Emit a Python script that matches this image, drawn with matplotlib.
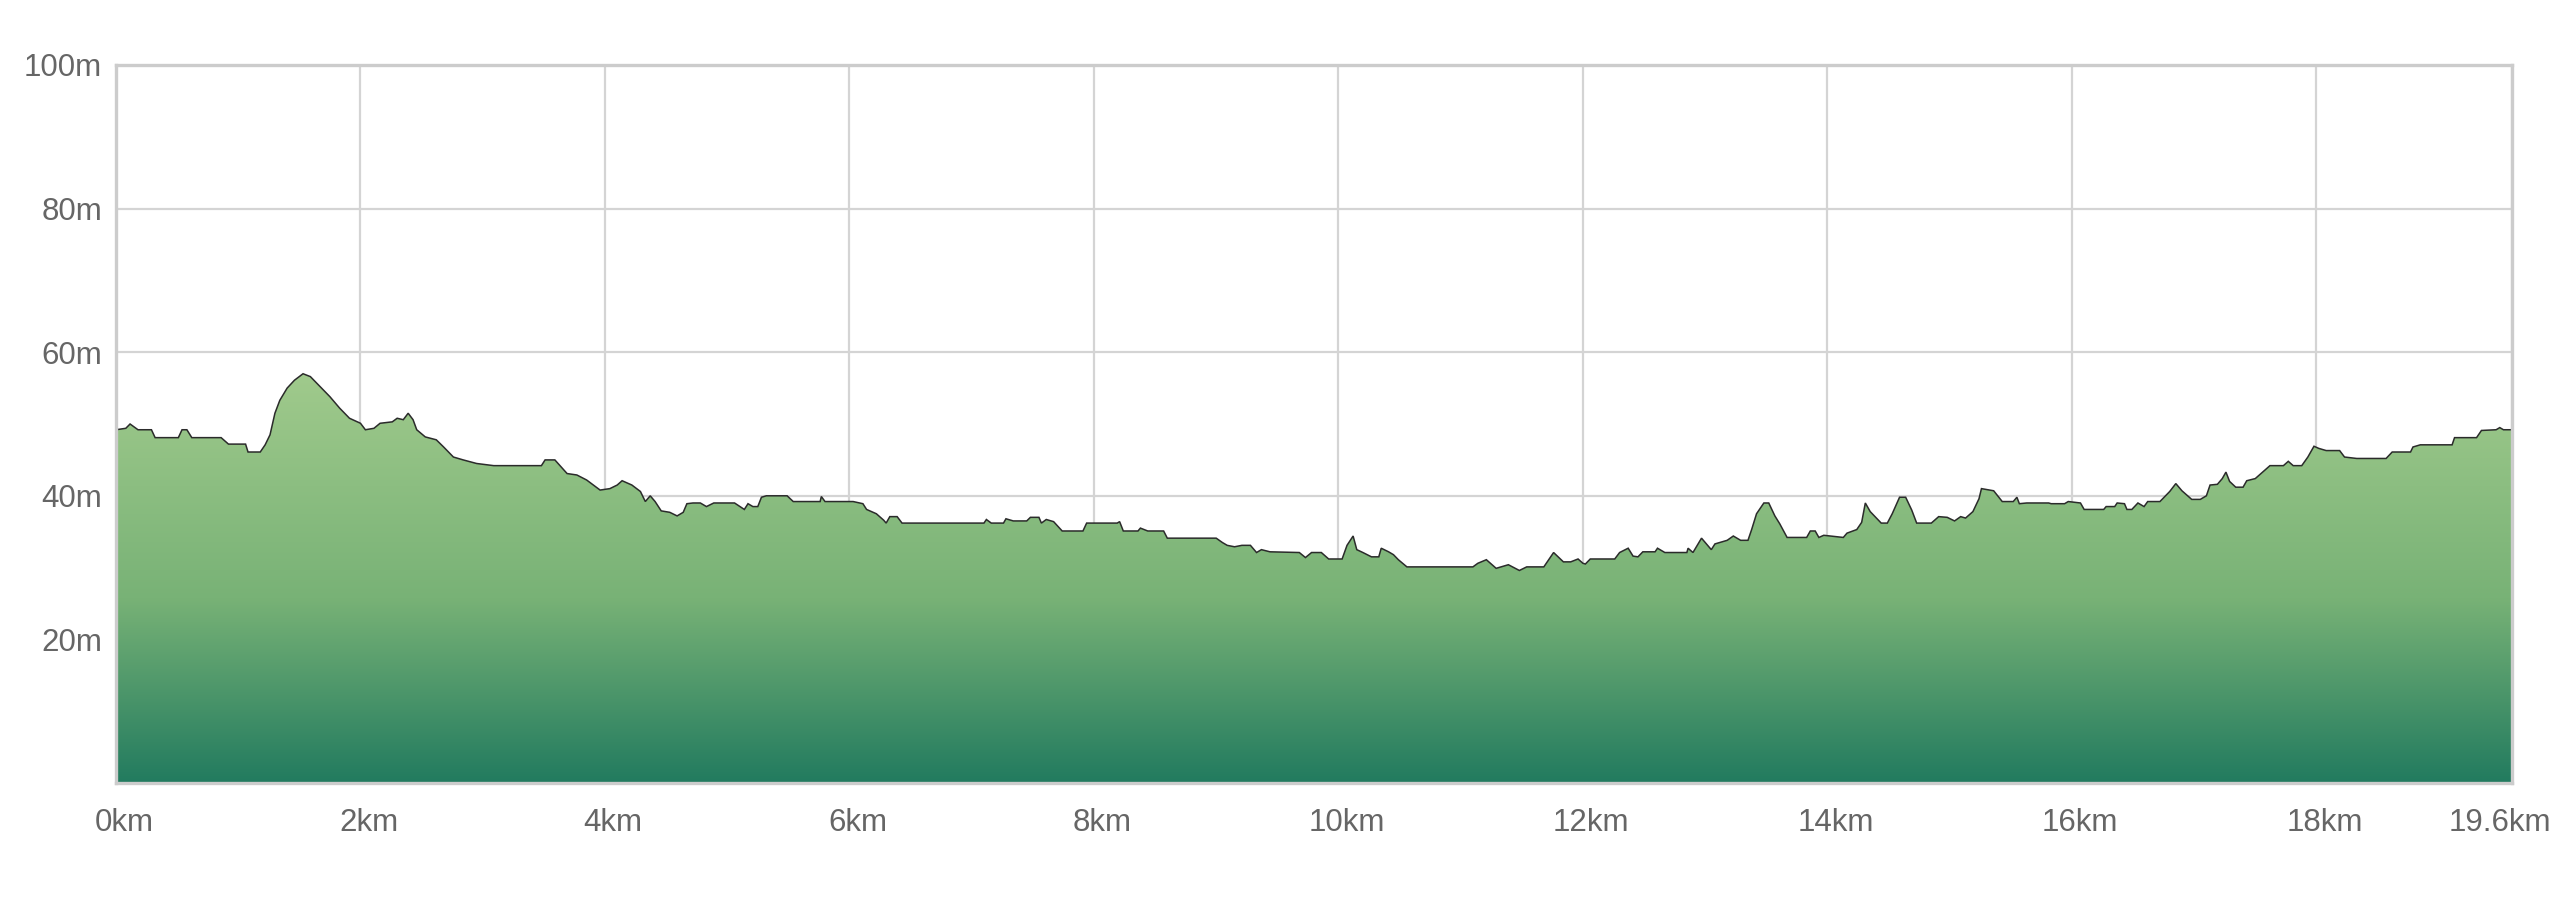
import numpy as np
import matplotlib
matplotlib.use("Agg")
import matplotlib.pyplot as plt
from matplotlib.patches import Polygon
from matplotlib.transforms import ScaledTranslation

# ---- data -------------------------------------------------------------
distance_km = [
    0.00, 0.08, 0.115, 0.18, 0.29, 0.32, 0.51, 0.54, 0.58, 0.62, 0.86, 0.92, 1.06, 1.08, 1.18,
    1.22, 1.26, 1.30, 1.34, 1.40, 1.46, 1.53, 1.59, 1.67, 1.75, 1.83, 1.91, 2.00, 2.04, 2.11,
    2.16, 2.26, 2.30, 2.35, 2.39, 2.43, 2.46, 2.53, 2.62, 2.68, 2.76, 2.84, 2.95, 3.09, 3.48,
    3.51, 3.59, 3.69, 3.77, 3.85, 3.96,
    4.04, 4.10, 4.14, 4.22, 4.29, 4.33, 4.37, 4.41, 4.46, 4.53, 4.59, 4.64, 4.67, 4.72, 4.78,
    4.83, 4.89, 5.06, 5.14, 5.17, 5.21, 5.25, 5.28, 5.32, 5.49, 5.54, 5.76, 5.77, 5.80, 6.03,
    6.11, 6.14, 6.22, 6.28, 6.30, 6.33, 6.39, 6.43, 7.10, 7.12, 7.16, 7.26, 7.28, 7.34, 7.45,
    7.48, 7.55, 7.57, 7.61, 7.67, 7.74, 7.91, 7.94,
    8.19, 8.21, 8.24, 8.36, 8.38, 8.44, 8.57, 8.60, 9.00, 9.05, 9.09, 9.15, 9.21, 9.28, 9.33,
    9.37, 9.44, 9.68, 9.73, 9.78, 9.86, 9.92, 10.03, 10.07, 10.12, 10.15, 10.20, 10.27, 10.33,
    10.35, 10.41, 10.45, 10.49, 10.56, 11.10, 11.14, 11.21, 11.29, 11.39, 11.48, 11.54, 11.68,
    11.76, 11.84, 11.90, 11.96, 12.00,
    12.02, 12.06, 12.26, 12.30, 12.37, 12.41, 12.45, 12.49, 12.59, 12.61, 12.67, 12.85, 12.86,
    12.90, 12.97, 13.05, 13.08, 13.18, 13.23, 13.29, 13.35, 13.38, 13.42, 13.48, 13.52, 13.57,
    13.61, 13.67, 13.83, 13.86, 13.90, 13.93, 13.97, 14.13, 14.16, 14.24, 14.28, 14.31, 14.35,
    14.44, 14.49, 14.53, 14.59, 14.64, 14.69, 14.73, 14.85, 14.91, 14.98, 15.04, 15.09, 15.13,
    15.19, 15.24, 15.26, 15.36, 15.43, 15.52, 15.55, 15.57, 15.63, 15.81, 15.83, 15.94, 15.97,
    16.07, 16.10, 16.26, 16.28, 16.35, 16.37, 16.43, 16.45, 16.49, 16.54, 16.59, 16.62, 16.72,
    16.76, 16.80, 16.85, 16.90, 16.98, 17.05, 17.10, 17.13, 17.19, 17.23, 17.26, 17.29, 17.34,
    17.40, 17.43, 17.50, 17.54, 17.62, 17.73, 17.77, 17.81, 17.88, 17.93, 17.98, 18.02, 18.08,
    18.19, 18.23, 18.33, 18.57, 18.62, 18.77, 18.79, 18.85, 19.11, 19.13, 19.31, 19.35, 19.47,
    19.50, 19.53, 19.60,
]
elevation_m = [
    49.2, 49.4, 50.0, 49.2, 49.2, 48.1, 48.1, 49.2, 49.2, 48.1, 48.1, 47.2, 47.2, 46.1, 46.1,
    47.1, 48.5, 51.5, 53.3, 55.0, 56.1, 57.0, 56.6, 55.2, 53.8, 52.2, 50.8, 50.1, 49.2, 49.4,
    50.1, 50.3, 50.8, 50.6, 51.5, 50.6, 49.2, 48.2, 47.8, 46.8, 45.4, 45.0, 44.5, 44.2, 44.2,
    45.0, 45.0, 43.1, 42.9, 42.2, 40.8,
    41.0, 41.5, 42.1, 41.5, 40.6, 39.2, 40.0, 39.2, 37.9, 37.7, 37.2, 37.7, 38.9, 39.0, 39.0,
    38.5, 39.0, 39.0, 38.1, 38.9, 38.5, 38.5, 39.8, 40.0, 40.0, 39.2, 39.2, 39.9, 39.2, 39.2,
    38.9, 38.1, 37.5, 36.6, 36.2, 37.1, 37.1, 36.2, 36.2, 36.7, 36.2, 36.2, 36.8, 36.5, 36.5,
    37.0, 37.0, 36.2, 36.7, 36.4, 35.1, 35.1, 36.2,
    36.2, 36.4, 35.1, 35.1, 35.5, 35.1, 35.1, 34.1, 34.1, 33.5, 33.1, 32.9, 33.1, 33.1, 32.1,
    32.5, 32.2, 32.1, 31.4, 32.1, 32.1, 31.2, 31.2, 33.1, 34.4, 32.5, 32.1, 31.5, 31.5,
    32.7, 32.2, 31.8, 31.1, 30.1, 30.1, 30.6, 31.1, 29.9, 30.4, 29.6, 30.1, 30.1,
    32.1, 30.8, 30.8, 31.2, 30.6,
    30.5, 31.2, 31.2, 32.1, 32.7, 31.6, 31.5, 32.2, 32.2, 32.7, 32.1, 32.1, 32.7,
    32.1, 34.1, 32.5, 33.3, 33.8, 34.4, 33.8, 33.8, 35.3, 37.5, 39.0, 39.0, 37.2,
    36.1, 34.2, 34.2, 35.1, 35.1, 34.2, 34.5, 34.2, 34.8, 35.3, 36.3, 39.0, 37.8,
    36.2, 36.2, 37.5, 39.8, 39.8, 38.0, 36.2, 36.2, 37.1, 37.0, 36.5, 37.1, 36.9,
    37.8, 39.6, 41.0, 40.7, 39.2, 39.2, 39.8, 38.9, 39.0, 39.0, 38.9, 38.9, 39.2,
    39.0, 38.1, 38.1, 38.5, 38.5, 39.0, 38.9, 38.1, 38.1, 39.0, 38.5, 39.2, 39.2,
    39.9, 40.6, 41.7, 40.7, 39.5, 39.5, 40.0, 41.5, 41.6, 42.4, 43.3, 42.0, 41.2,
    41.2, 42.1, 42.4, 43.0, 44.2, 44.2, 44.8, 44.2, 44.2, 45.4, 46.9, 46.6, 46.3,
    46.3, 45.4, 45.2, 45.2, 46.1, 46.1, 46.8, 47.1, 47.1, 48.1, 48.1, 49.1, 49.2,
    49.5, 49.2, 49.2,
]
x_ticks = [0, 2, 4, 6, 8, 10, 12, 14, 16, 18, 19.6]
x_tick_labels = ["0km", "2km", "4km", "6km", "8km", "10km", "12km", "14km", "16km", "18km", "19.6km"]
y_ticks = [20, 40, 60, 80, 100]
y_tick_labels = ["20m", "40m", "60m", "80m", "100m"]

# ---- figure -----------------------------------------------------------
DPI = 100
fig = plt.figure(figsize=(2560 / DPI, 907 / DPI), dpi=DPI)
ax = fig.add_axes([116 / 2560, 1 - 783 / 907, (2512 - 116) / 2560, (783 - 65) / 907])

font = ["Liberation Sans", "DejaVu Sans"]
text_color = "#666666"

x = np.array(distance_km)
y = np.array(elevation_m)

ax.set_xlim(0, 19.6)
ax.set_ylim(0, 100)

# gradient fill clipped to the area under the profile
top_col = np.array([160, 202, 140]) / 255.0
mid_col = np.array([120, 178, 118]) / 255.0
bot_col = np.array([34, 123, 95]) / 255.0
n = 256
t = np.linspace(0, 1, n)[:, None]  # 0 = top, 1 = bottom
col = np.where(t < 0.55,
               top_col + (mid_col - top_col) * (t / 0.55),
               mid_col + (bot_col - mid_col) * ((t - 0.55) / 0.45))
grad = col[:, None, :]
ymax = float(y.max())
im = ax.imshow(grad, extent=[x.min(), x.max(), 0, ymax], aspect="auto",
               origin="upper", interpolation="bilinear", zorder=2)
verts = [(x[0], 0)] + list(zip(x, y)) + [(x[-1], 0)]
poly = Polygon(verts, closed=True, facecolor="none", edgecolor="none",
               transform=ax.transData)
ax.add_patch(poly)
im.set_clip_path(poly)

ax.plot(x, y, color="#2b2b2b", lw=1.1, zorder=3, solid_joinstyle="miter")

# grid & spines
ax.set_xticks(x_ticks)
ax.set_yticks(y_ticks)
ax.set_xticklabels(x_tick_labels)
ax.set_yticklabels(y_tick_labels)
ax.grid(True, color="#d4d4d4", lw=1.6, zorder=1)
ax.set_axisbelow(True)
for s in ax.spines.values():
    s.set_color("#cccccc")
    s.set_linewidth(2.4)
    s.set_zorder(4)
ax.tick_params(length=0, labelsize=22.5, labelcolor=text_color)
ax.tick_params(axis="x", pad=18)
ax.tick_params(axis="y", pad=10)
for lab in ax.get_xticklabels() + ax.get_yticklabels():
    lab.set_fontfamily(font)

for lab in ax.get_xticklabels():
    dx = 8 if lab.get_text() != "19.6km" else -12
    lab.set_transform(lab.get_transform() + ScaledTranslation(dx / DPI, 0, fig.dpi_scale_trans))

fig.savefig("out.png", dpi=DPI, facecolor="white")
